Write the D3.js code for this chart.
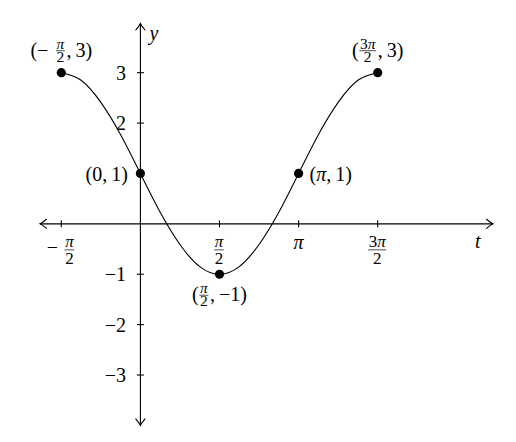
<!DOCTYPE html>
<html><head><meta charset="utf-8">
<script src="https://cdn.jsdelivr.net/npm/d3@7"></script>
<style>
html,body{margin:0;padding:0;background:#fff;}
text{font-family:"Liberation Serif","Times New Roman",serif;fill:#000;}
</style>
</head><body><svg id="c" width="516" height="442"></svg>
<script>
// ---- data (t values are multiples of π) ----
const curveT = [-0.5,-0.375,-0.25,-0.125,0,0.125,0.25,0.375,0.5,0.625,0.75,0.875,1,1.125,1.25,1.375,1.5];
const curveY = [3,2.85,2.41,1.77,1,0.23,-0.41,-0.85,-1,-0.85,-0.41,0.23,1,1.77,2.41,2.85,3];
const pointT = [-0.5,0,0.5,1,1.5];
const pointY = [3,1,-1,1,3];
const pointLabels = [
  ['(−',{g:7},{f:['π','2']},',\u2009','3)'],
  ['(0,\u20091)'],
  ['(',{f:['π','2']},',\u2009−1)'],
  ['(π,\u20091)'],
  ['(',{f:['3π','2']},',\u2009','3)']
];
const xTickT = [-0.5,0.5,1,1.5];
const xTickLabels = [['−',{g:6},{f:['π','2']}],[{f:['π','2']}],['π'],[{f:['3π','2']}]];
const yTicks = [-3,-2,-1,1,2,3];
const yTickLabels = ['−3','−2','−1','','2','3'];
const xAxisName = 't', yAxisName = 'y';

// ---- layout ----
const PI = Math.PI;
const svg = d3.select('#c');
svg.append('rect').attr('width',516).attr('height',442).attr('fill','#fff');
const x = d3.scaleLinear().domain([-PI/2, 3*PI/2]).range([61.3, 377.7]);
const y = d3.scaleLinear().domain([-3, 3]).range([375, 72.7]);
const X0 = x(0), Y0 = y(0);
const MAIN = 20;

function addRich(sel, str){
  str.split(/(π)/).forEach(p=>{
    if(!p) return;
    const ts = sel.append('tspan').text(p);
    if(p==='π') ts.style('font-style','italic');
  });
}
function mathLabel(parent, parts, cfg){
  const g = parent.append('g');
  let cx = 0;
  parts.forEach(p=>{
    if(typeof p==='string'){
      const t = g.append('text').attr('x',cx).attr('y',0).attr('font-size',cfg.size);
      addRich(t,p);
      cx += t.node().getComputedTextLength();
    } else if(p.g!==undefined){ cx += p.g; }
    else if(p.f){
      // one text element holding numerator and denominator as positioned tspans
      const t = g.append('text').attr('font-size',cfg.fsize).attr('text-anchor','middle');
      const n = t.append('tspan').attr('y',cfg.bar+cfg.num);
      addRich(n,p.f[0]);
      const d = t.append('tspan').attr('y',cfg.bar+cfg.den);
      addRich(d,p.f[1]);
      const w = Math.max(n.node().getComputedTextLength(), d.node().getComputedTextLength()) + 2.4;
      n.attr('x',cx+w/2); d.attr('x',cx+w/2);
      g.append('line').attr('x1',cx+0.6).attr('x2',cx+w-0.6).attr('y1',cfg.bar).attr('y2',cfg.bar)
        .attr('stroke','#000').attr('stroke-width',0.7);
      cx += w + 1;
    }
  });
  return {g, w: cx};
}
function place(lbl, px, baseline, anchor){
  const dx = anchor==='end' ? -lbl.w : anchor==='middle' ? -lbl.w/2 : 0;
  lbl.g.attr('transform',`translate(${px+dx},${baseline})`);
}

// ---- axes ----
const ax = svg.append('g').attr('stroke','#000').attr('fill','none').attr('stroke-width',1.1);
const xMinV = x.invert(40), xMaxV = x.invert(493);
const yMinV = -4, yMaxV = y.invert(23.5);
ax.append('line').attr('x1',x(xMinV)).attr('x2',x(xMaxV)).attr('y1',Y0).attr('y2',Y0);
ax.append('line').attr('x1',X0).attr('x2',X0).attr('y1',y(yMinV)).attr('y2',y(yMaxV));
function arrow(tx,ty,dx,dy){
  const px=-dy, py=dx, L=6.5, W=4.6;
  const a1=[tx-dx*L+px*W, ty-dy*L+py*W], a2=[tx-dx*L-px*W, ty-dy*L-py*W];
  const c1=[tx-dx*2.2+px*1.0, ty-dy*2.2+py*1.0], c2=[tx-dx*2.2-px*1.0, ty-dy*2.2-py*1.0];
  ax.append('path').attr('stroke-linecap','round')
    .attr('d',`M${a1}Q${c1} ${tx},${ty}Q${c2} ${a2}`);
}
arrow(x(xMaxV),Y0,1,0); arrow(x(xMinV),Y0,-1,0);
arrow(X0,y(yMaxV),0,-1); arrow(X0,y(yMinV),0,1);

// ticks
xTickT.forEach(t=>{
  ax.append('line').attr('x1',x(t*PI)).attr('x2',x(t*PI)).attr('y1',Y0-3.5).attr('y2',Y0+3.5);
});
yTicks.forEach(v=>{
  ax.append('line').attr('x1',X0-3.5).attr('x2',X0+3.5).attr('y1',y(v)).attr('y2',y(v));
});

// tick labels
const tickCfg = {size:MAIN, fsize:17, bar:-4, num:-2.5, den:14};
xTickLabels.forEach((parts,i)=>{
  const plain = parts.length===1 && typeof parts[0]==='string';
  const lbl = mathLabel(svg, parts, tickCfg);
  place(lbl, x(xTickT[i]*PI), plain ? Y0+25 : Y0+30, 'middle');
});
yTicks.forEach((v,i)=>{
  svg.append('text').attr('x',126).attr('y',y(v)+7).attr('font-size',MAIN)
    .attr('text-anchor','end').text(yTickLabels[i]);
});
svg.append('text').attr('x',X0+9).attr('y',40).attr('font-size',MAIN).style('font-style','italic').text(yAxisName);
svg.append('text').attr('x',x(xMaxV)-18).attr('y',Y0+24).attr('font-size',MAIN).style('font-style','italic').text(xAxisName);

// ---- curve ----
const line = d3.line().x((d,i)=>x(curveT[i]*PI)).y(d=>y(d)).curve(d3.curveNatural);
svg.append('path').attr('d',line(curveY)).attr('fill','none').attr('stroke','#000').attr('stroke-width',1.1);

// ---- points & labels ----
const ptCfg = {size:MAIN, fsize:15.5, bar:-6, num:-2, den:11};
const anchors = ['above','left','below','right','above'];
pointT.forEach((t,i)=>{
  const px = x(t*PI), py = y(pointY[i]);
  svg.append('circle').attr('cx',px).attr('cy',py).attr('r',4.6).attr('fill','#000');
  const lbl = mathLabel(svg, pointLabels[i], ptCfg);
  const a = anchors[i];
  if(a==='above') place(lbl, px, py-16, 'middle');
  else if(a==='below') place(lbl, px, py+27, 'middle');
  else if(a==='left') place(lbl, px-12.5, py+8, 'end');
  else place(lbl, px+11, py+8, 'start');
});
</script>
</body></html>
